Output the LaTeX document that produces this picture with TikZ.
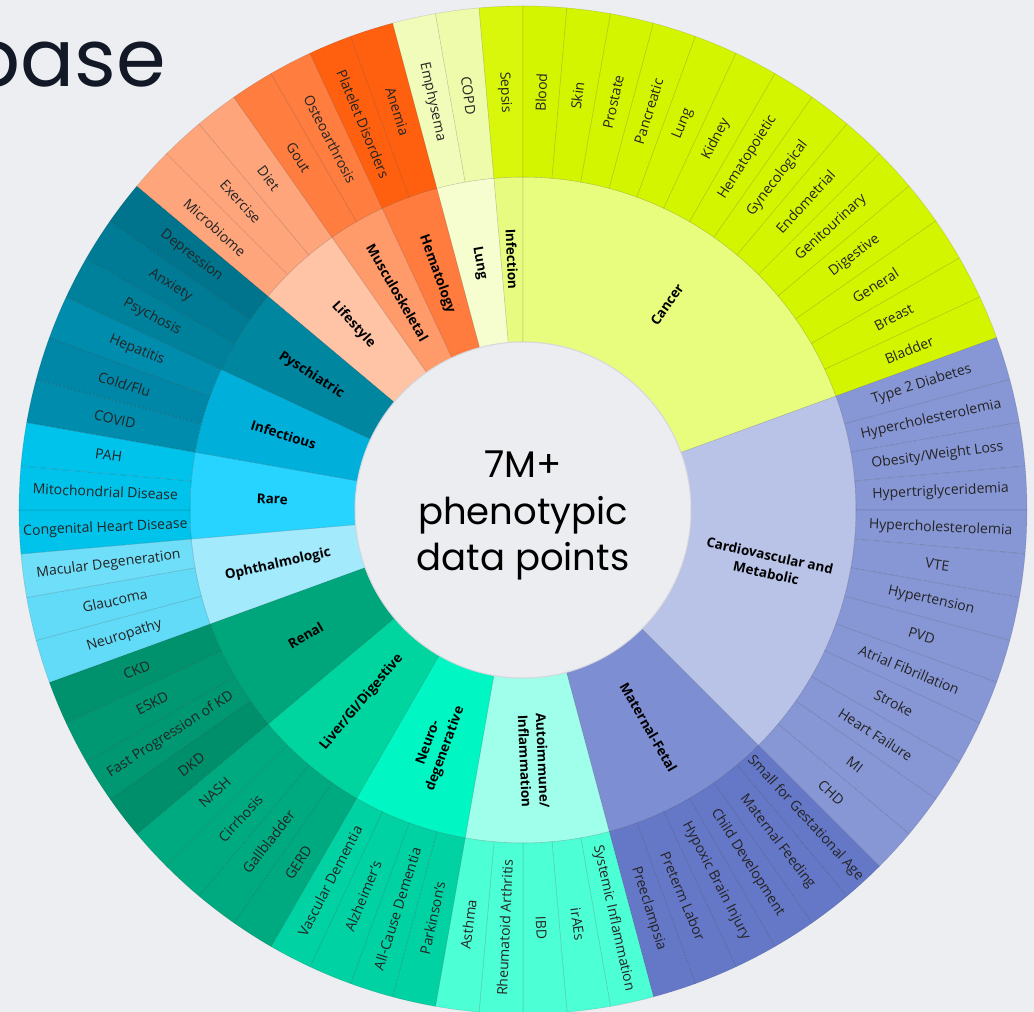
\documentclass[tikz,border=0pt]{standalone}
\usepackage{fontspec}
\setmainfont{Open Sans}
\newfontfamily\headfont{Poppins}

% page and centre
\definecolor{bgc}{HTML}{EDEEF2}
\definecolor{hubc}{HTML}{ECEDF1}
\definecolor{hubline}{HTML}{D6D8DF}
\definecolor{headc}{HTML}{121826}
\definecolor{olabc}{HTML}{242424}
% outer / inner ring colours per category
\definecolor{emphO}{HTML}{F2FCBA}
\definecolor{copdO}{HTML}{EDFBAA}
\definecolor{lungI}{HTML}{F6FECF}
\definecolor{infO}{HTML}{D8F70A}
\definecolor{infI}{HTML}{E7FB80}
\definecolor{canO}{HTML}{D4F500}
\definecolor{canI}{HTML}{E8FC7D}
\definecolor{cvO}{HTML}{8797D6}
\definecolor{cvI}{HTML}{B9C3E8}
\definecolor{matO}{HTML}{6577C7}
\definecolor{matI}{HTML}{7D8ED2}
\definecolor{autO}{HTML}{4DFFD5}
\definecolor{autI}{HTML}{A0FFEB}
\definecolor{neuO}{HTML}{00D2A3}
\definecolor{neuI}{HTML}{00F7C3}
\definecolor{livO}{HTML}{00AA80}
\definecolor{livI}{HTML}{00D5A0}
\definecolor{renO}{HTML}{009872}
\definecolor{renI}{HTML}{00A67B}
\definecolor{ophO}{HTML}{62DBF8}
\definecolor{ophI}{HTML}{A3EAFD}
\definecolor{rarO}{HTML}{00C3EB}
\definecolor{rarI}{HTML}{26D4FF}
\definecolor{ifsO}{HTML}{008CAD}
\definecolor{ifsI}{HTML}{00B0DB}
\definecolor{psyO}{HTML}{007B95}
\definecolor{psyA}{HTML}{00819B}
\definecolor{psyI}{HTML}{00869F}
\definecolor{lifO}{HTML}{FFA57C}
\definecolor{lifI}{HTML}{FFC3A5}
\definecolor{musO}{HTML}{FF7D3F}
\definecolor{musI}{HTML}{FF9B6A}
\definecolor{hemO}{HTML}{FF600F}
\definecolor{hemI}{HTML}{FF7B3E}

\def\rin{168pt}
\def\rmid{333pt}
\def\rout{504pt}

\tikzset{
  sector/.style={draw=black, draw opacity=0.12, line width=0.6pt},
  outerlabel/.style={text=olabc, inner sep=0pt, font=\fontsize{14}{16}\selectfont},
  innerlabel/.style={text=black, inner sep=0pt, align=center, font=\bfseries\fontsize{13.5}{18}\selectfont},
  centertext/.style={text=black, inner sep=0pt, font=\headfont\fontsize{37}{44}\selectfont},
}

\newcounter{segno}
% text angle that keeps a radial label readable
\newcommand\readable[1]{%
  \pgfmathsetmacro\rt{#1}%
  \ifdim#1pt>90pt \pgfmathsetmacro\rt{#1-180}\fi
  \ifdim#1pt<-90pt \pgfmathsetmacro\rt{#1+180}\fi
}
% outer ring: one 5 degree slice starting at #1, fill #2, label #3
\newcommand\osec[3]{%
  \stepcounter{segno}%
  \pgfmathsetmacro\sa{#1}%
  \pgfmathsetmacro\ea{#1-5}%
  \pgfmathsetmacro\ma{#1-2.5}%
  \readable{\ma}%
  \path[sector, fill=#2] (\sa:\rmid) arc[start angle=\sa, end angle=\ea, radius=\rmid]
     -- (\ea:\rout) arc[start angle=\ea, end angle=\sa, radius=\rout] -- cycle;
  \node[outerlabel, rotate=\rt] (sub\thesegno) at (\ma:418pt) {#3};%
}
% inner ring: category #1 from #2 to #3, fill #4, label #5
\newcommand\isec[5]{%
  \pgfmathsetmacro\ma{(#2+#3)/2}%
  \readable{\ma}%
  \path[sector, fill=#4] (#2:\rin) arc[start angle=#2, end angle=#3, radius=\rin]
     -- (#3:\rmid) arc[start angle=#3, end angle=#2, radius=\rmid] -- cycle;
  \node[innerlabel, rotate=\rt] (#1) at (\ma:251pt) {#5};%
}

\begin{document}
\begin{tikzpicture}
\useasboundingbox (-523pt,-502pt) rectangle (511pt,510pt);
\clip (-523pt,-502pt) rectangle (511pt,510pt);
\fill[bgc] (-523pt,-502pt) rectangle (511pt,510pt);

% heading fragment
\node[anchor=base east, inner sep=0pt, text=headc,
      font=\headfont\fontsize{80}{80}\selectfont] (heading) at (-357pt,423pt) {base};

% ---- categories ----
\isec{lung}{105}{95}{lungI}{Lung}
\isec{infection}{95}{90}{infI}{Infection}
\isec{cancer}{90}{20}{canI}{Cancer}
\isec{cardio}{20}{-45}{cvI}{Cardiovascular and\\Metabolic}
\isec{maternal}{-45}{-75}{matI}{Maternal-Fetal}
\isec{autoimmune}{-75}{-100}{autI}{Autoimmune/\\Inflammation}
\isec{neuro}{-100}{-120}{neuI}{Neuro-\\degenerative}
\isec{liver}{-120}{-140}{livI}{Liver/GI/Digestive}
\isec{renal}{-140}{-160}{renI}{Renal}
\isec{ophth}{-160}{-175}{ophI}{Ophthalmologic}
\isec{rare}{-175}{-190}{rarI}{Rare}
\isec{infectious}{-190}{-205}{ifsI}{Infectious}
\isec{psych}{-205}{-220}{psyI}{Pyschiatric}
\isec{lifestyle}{-220}{-235}{lifI}{Lifestyle}
\isec{musculo}{-235}{-245}{musI}{Musculoskeletal}
\isec{hemato}{-245}{-255}{hemI}{Hematology}

% ---- sub-categories ----
\osec{105}{emphO}{Emphysema}
\osec{100}{copdO}{COPD}
\osec{95}{infO}{Sepsis}
\osec{90}{canO}{Blood}
\osec{85}{canO}{Skin}
\osec{80}{canO}{Prostate}
\osec{75}{canO}{Pancreatic}
\osec{70}{canO}{Lung}
\osec{65}{canO}{Kidney}
\osec{60}{canO}{Hematopoietic}
\osec{55}{canO}{Gynecological}
\osec{50}{canO}{Endometrial}
\osec{45}{canO}{Genitourinary}
\osec{40}{canO}{Digestive}
\osec{35}{canO}{General}
\osec{30}{canO}{Breast}
\osec{25}{canO}{Bladder}
\osec{20}{cvO}{Type 2 Diabetes}
\osec{15}{cvO}{Hypercholesterolemia}
\osec{10}{cvO}{Obesity/Weight Loss}
\osec{5}{cvO}{Hypertriglyceridemia}
\osec{0}{cvO}{Hypercholesterolemia}
\osec{-5}{cvO}{VTE}
\osec{-10}{cvO}{Hypertension}
\osec{-15}{cvO}{PVD}
\osec{-20}{cvO}{Atrial Fibrillation}
\osec{-25}{cvO}{Stroke}
\osec{-30}{cvO}{Heart Failure}
\osec{-35}{cvO}{MI}
\osec{-40}{cvO}{CHD}
\osec{-45}{matO}{Small for Gestational Age}
\osec{-50}{matO}{Maternal Feeding}
\osec{-55}{matO}{Child Development}
\osec{-60}{matO}{Hypoxic Brain Injury}
\osec{-65}{matO}{Preterm Labor}
\osec{-70}{matO}{Preeclampsia}
\osec{-75}{autO}{Systemic Inflammation}
\osec{-80}{autO}{irAEs}
\osec{-85}{autO}{IBD}
\osec{-90}{autO}{Rheumatoid Arthritis}
\osec{-95}{autO}{Asthma}
\osec{-100}{neuO}{Parkinson’s}
\osec{-105}{neuO}{All-Cause Dementia}
\osec{-110}{neuO}{Alzheimer’s}
\osec{-115}{neuO}{Vascular Dementia}
\osec{-120}{livO}{GERD}
\osec{-125}{livO}{Gallbladder}
\osec{-130}{livO}{Cirrhosis}
\osec{-135}{livO}{NASH}
\osec{-140}{renO!94!black}{DKD}
\osec{-145}{renO}{Fast Progression of KD}
\osec{-150}{renO}{ESKD}
\osec{-155}{renO!96!black}{CKD}
\osec{-160}{ophO}{Neuropathy}
\osec{-165}{ophO}{Glaucoma}
\osec{-170}{ophO!92!white}{Macular Degeneration}
\osec{-175}{rarO}{Congenital Heart Disease}
\osec{-180}{rarO}{Mitochondrial Disease}
\osec{-185}{rarO}{PAH}
\osec{-190}{ifsO}{COVID}
\osec{-195}{ifsO!96!black}{Cold/Flu}
\osec{-200}{ifsO}{Hepatitis}
\osec{-205}{psyA}{Psychosis}
\osec{-210}{psyO}{Anxiety}
\osec{-215}{psyO!94!black}{Depression}
\osec{-220}{lifO}{Microbiome}
\osec{-225}{lifO}{Exercise}
\osec{-230}{lifO}{Diet}
\osec{-235}{musO}{Gout}
\osec{-240}{musO}{Osteoarthrosis}
\osec{-245}{hemO}{Platelet Disorders}
\osec{-250}{hemO}{Anemia}

% ---- hub ----
\fill[hubc] (0,0) circle[radius=\rin];
\draw[hubline, line width=1pt] (0,0) circle[radius=\rin];
\node[centertext, anchor=base] (hub1) at (0pt,32pt) {7M+};
\node[centertext, anchor=base] (hub2) at (0pt,-15pt) {phenotypic};
\node[centertext, anchor=base] (hub3) at (0pt,-60pt) {data points};
\end{tikzpicture}
\end{document}
